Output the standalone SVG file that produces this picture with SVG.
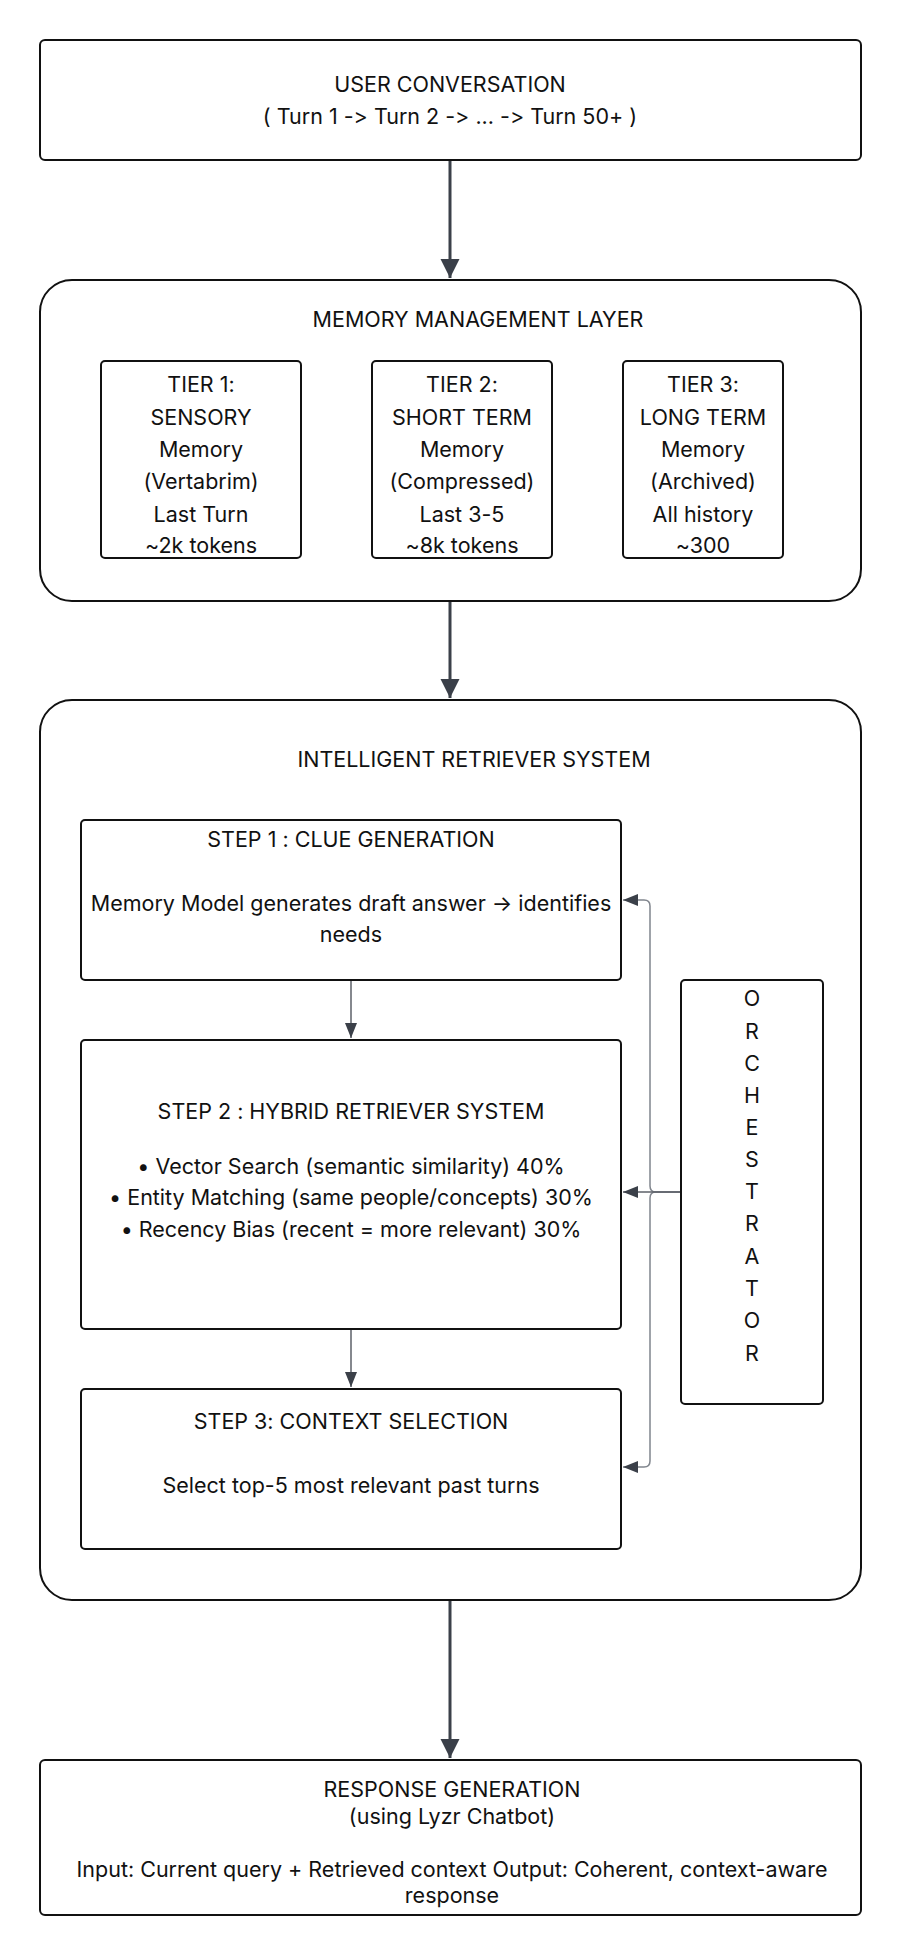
<svg xmlns="http://www.w3.org/2000/svg" width="900" height="1956" viewBox="0 0 900 1956">
<style>
.box{fill:#fff;stroke:#111;stroke-width:2}
.t{font-family:Inter,"Noto Sans","Liberation Sans",sans-serif;font-size:21.5px;fill:#111;text-anchor:middle;dominant-baseline:central;font-feature-settings:"calt" 0,"liga" 0;font-variant-ligatures:none}
.main{stroke:#3b4049;stroke-width:3;fill:none}
.thin{stroke:#5c6169;stroke-width:1.5;fill:none}
.orch{stroke:#80858d;stroke-width:1.5;fill:none}
</style>
<defs>
<marker id="ah" viewBox="0 0 10 10" refX="10" refY="5" markerWidth="6.5" markerHeight="6.5" orient="auto" markerUnits="strokeWidth">
<path d="M0,0 L10,5 L0,10 z" fill="#3b4049"/>
</marker>
<marker id="ahs" viewBox="0 0 10 10" refX="10" refY="5" markerWidth="10" markerHeight="10" orient="auto" markerUnits="strokeWidth">
<path d="M0,1 L10,5 L0,9 z" fill="#3b4049"/>
</marker>
</defs>
<rect width="900" height="1956" fill="#fff"/>

<g id="user-conversation">
<rect class="box" x="40" y="40" width="821" height="120" rx="5"/>
<text class="t" x="450" y="84">USER CONVERSATION</text>
<text class="t" x="450" y="116">( Turn 1 -&gt; Turn 2 -&gt; ... -&gt; Turn 50+ )</text>
</g>

<g id="memory-layer">
<rect class="box" x="40" y="280" width="821" height="321" rx="32"/>
<text class="t" x="478" y="319">MEMORY MANAGEMENT LAYER</text>
</g>

<g id="tier1">
<rect class="box" x="101" y="361" width="200" height="197" rx="4"/>
<text class="t" x="201" y="384">TIER 1:</text>
<text class="t" x="201" y="417">SENSORY</text>
<text class="t" x="201" y="449">Memory</text>
<text class="t" x="201" y="481">(Vertabrim)</text>
<text class="t" x="201" y="514">Last Turn</text>
<text class="t" x="201" y="545">~2k tokens</text>
</g>

<g id="tier2">
<rect class="box" x="372" y="361" width="180" height="197" rx="4"/>
<text class="t" x="462" y="384">TIER 2:</text>
<text class="t" x="462" y="417">SHORT TERM</text>
<text class="t" x="462" y="449">Memory</text>
<text class="t" x="462" y="481">(Compressed)</text>
<text class="t" x="462" y="514">Last 3-5</text>
<text class="t" x="462" y="545">~8k tokens</text>
</g>

<g id="tier3">
<rect class="box" x="623" y="361" width="160" height="197" rx="4"/>
<text class="t" x="703" y="384">TIER 3:</text>
<text class="t" x="703" y="417">LONG TERM</text>
<text class="t" x="703" y="449">Memory</text>
<text class="t" x="703" y="481">(Archived)</text>
<text class="t" x="703" y="514">All history</text>
<text class="t" x="703" y="545">~300</text>
</g>

<g id="retriever-system">
<rect class="box" x="40" y="700" width="821" height="900" rx="32"/>
<text class="t" x="474" y="759">INTELLIGENT RETRIEVER SYSTEM</text>
</g>

<g id="step1">
<rect class="box" x="81" y="820" width="540" height="160" rx="4"/>
<text class="t" x="351" y="839">STEP 1 : CLUE GENERATION</text>
<text class="t" x="351" y="903">Memory Model generates draft answer → identifies</text>
<text class="t" x="351" y="934">needs</text>
</g>

<g id="step2">
<rect class="box" x="81" y="1040" width="540" height="289" rx="4"/>
<text class="t" x="351" y="1111">STEP 2 : HYBRID RETRIEVER SYSTEM</text>
<text class="t" x="351" y="1166">• Vector Search (semantic similarity) 40%</text>
<text class="t" x="351" y="1197">• Entity Matching (same people/concepts) 30%</text>
<text class="t" x="351" y="1229">• Recency Bias (recent = more relevant) 30%</text>
</g>

<g id="step3">
<rect class="box" x="81" y="1389" width="540" height="160" rx="4"/>
<text class="t" x="351" y="1421">STEP 3: CONTEXT SELECTION</text>
<text class="t" x="351" y="1485">Select top-5 most relevant past turns</text>
</g>

<g id="orchestrator">
<rect class="box" x="681" y="980" width="142" height="424" rx="4"/>
<text class="t" x="752" y="998">O</text>
<text class="t" x="752" y="1031">R</text>
<text class="t" x="752" y="1063">C</text>
<text class="t" x="752" y="1095">H</text>
<text class="t" x="752" y="1127">E</text>
<text class="t" x="752" y="1159">S</text>
<text class="t" x="752" y="1191">T</text>
<text class="t" x="752" y="1223">R</text>
<text class="t" x="752" y="1256">A</text>
<text class="t" x="752" y="1288">T</text>
<text class="t" x="752" y="1320">O</text>
<text class="t" x="752" y="1353">R</text>
</g>

<g id="response-generation">
<rect class="box" x="40" y="1760" width="821" height="155" rx="5"/>
<text class="t" x="452" y="1789">RESPONSE GENERATION</text>
<text class="t" x="452" y="1816">(using Lyzr Chatbot)</text>
<text class="t" x="452" y="1869">Input: Current query + Retrieved context Output: Coherent, context-aware</text>
<text class="t" x="452" y="1895">response</text>
</g>

<g id="connectors">
<path class="main" d="M450 161 V278" marker-end="url(#ah)"/>
<path class="main" d="M450 602 V698" marker-end="url(#ah)"/>
<path class="main" d="M450 1601 V1758" marker-end="url(#ah)"/>
<path class="thin" d="M351 981 V1038" marker-end="url(#ahs)"/>
<path class="thin" d="M351 1330 V1387" marker-end="url(#ahs)"/>
<path class="orch" d="M680 1192 H656 Q650 1192 650 1186 V906 Q650 900 644 900 H623" marker-end="url(#ahs)"/>
<path class="orch" d="M680 1192 H656 Q650 1192 650 1198 V1461 Q650 1467 644 1467 H623" marker-end="url(#ahs)"/>
<path class="thin" d="M680 1192 H623" marker-end="url(#ahs)"/>
</g>
</svg>
